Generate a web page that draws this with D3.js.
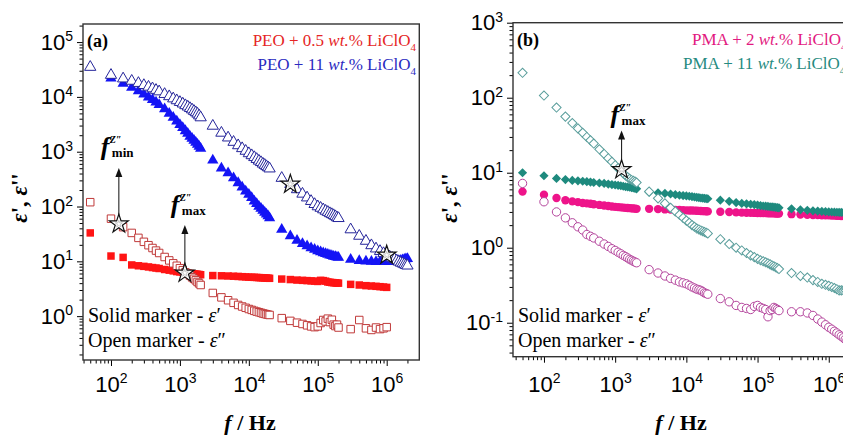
<!DOCTYPE html>
<html>
<head>
<meta charset="utf-8">
<script src="https://cdn.jsdelivr.net/npm/d3@7"></script>
<style>
body { margin: 0; background: #fff; }
svg text { font-family: "Liberation Serif", "Times New Roman", serif; }
.tick text { font-family: "Liberation Sans", Arial, sans-serif; font-size: 22px; }
</style>
</head>
<body>
<svg id="chart" width="843" height="435"></svg>
<script>
// frequency grid (Hz) shared by all series
var freq = [50, 100, 150, 200, 250, 300, 350, 400, 450, 500, 600, 700, 800, 900, 1000,
  1100, 1200, 1300, 1400, 1500, 1600, 1700, 1800, 1900, 2000,
  3000, 4000, 5000, 6000, 7000, 8000, 9000, 10000, 11000, 12000,
  13000, 14000, 15000, 16000, 17000, 18000, 19000, 20000,
  30000, 40000, 50000, 60000, 70000, 80000, 90000, 100000, 110000, 120000,
  130000, 140000, 150000, 160000, 170000, 180000, 190000, 200000,
  300000, 400000, 500000, 600000, 700000, 800000, 900000, 1000000, 1100000, 1200000,
  1300000, 1400000, 1500000, 1600000, 1700000, 1800000, 1900000, 2000000];

// (a) PEO + 0.5 wt.% LiClO4
var epsRealPEO05 = [33, 12.5, 11.8, 8.6, 8.3, 8.1, 7.9, 7.7, 7.55, 7.4, 7.1, 6.9, 6.7, 6.5, 6.4,
  6.3, 6.2, 6.1, 6.0, 5.95, 5.9, 5.85, 5.8, 5.75, 5.7,
  5.5, 5.45, 5.4, 5.35, 5.3, 5.25, 5.2, 5.15, 5.13, 5.1,
  5.08, 5.05, 5.03, 5.0, 4.98, 4.95, 4.93, 4.9,
  4.75, 4.65, 4.55, 4.5, 4.45, 4.4, 4.35, 4.3, 4.5, 4.45,
  4.35, 4.2, 4.15, 4.1, 4.08, 4.05, 4.02, 4.0,
  3.8, 3.7, 3.6, 3.55, 3.5, 3.45, 3.4, 3.35, null, null,
  null, null, null, null, null, null, null, null];
var epsImagPEO05 = [120, 60, 42, 33, 26.8, 22.7, 19.7, 17.5, 15.7, 14.2, 12.0, 10.4, 9.2, 8.3, 7.5,
  6.9, 6.3, 5.9, 5.5, 5.1, 4.8, 4.5, 4.2, 3.95, 3.7,
  2.65, 2.2, 1.95, 1.75, 1.6, 1.5, 1.42, 1.35, 1.3, 1.25,
  1.21, 1.18, 1.15, 1.12, 1.1, 1.08, 1.06, 1.05,
  0.92, 0.82, 0.76, 0.72, 0.68, 0.65, 0.63, 0.65, 0.75, 0.85,
  0.8, 0.9, 0.78, 0.86, 0.7, 0.66, 0.7, 0.62,
  0.58, 0.85, 0.6, 0.56, 0.62, 0.58, 0.6, 0.63, null, null,
  null, null, null, null, null, null, null, null];
// (a) PEO + 11 wt.% LiClO4
var epsRealPEO11 = [null, 22000, 17500, 14800, 12800, 11200, 9900, 8900, 8000, 7200, 6000, 5000, 4200, 3600, 3100,
  2750, 2400, 2150, 1900, 1750, 1600, 1470, 1350, 1250, 1150,
  700, 500, 410, 330, 270, 225, 190, 165, 145, 125,
  112, 100, 92, 85, 78, 72, 67, 62,
  38, 29, 24, 21, 19, 17.5, 16.5, 15.5, 14.8, 14.2,
  13.7, 13.3, 12.9, 12.6, 12.3, 12.1, 11.9, 11.7,
  10.8, 10.3, 10.0, 9.9, 9.8, 9.8, 9.8, 9.8, 9.85, 9.9,
  10.0, 10.1, 10.2, 10.4, 10.6, 10.8, 11.0, 11.2];
var epsImagPEO11 = [35000, 25000, 21500, 19500, 17800, 16300, 15200, 14200, 13300, 12500, 11200, 10200, 9300, 8600, 8000,
  7500, 7000, 6600, 6200, 5850, 5500, 5200, 4900, 4550, 4200,
  2950, 2200, 1800, 1500, 1300, 1150, 1030, 930, 855, 790,
  730, 680, 640, 600, 570, 540, 515, 490,
  330, 255, 205, 170, 145, 125, 110, 100, 94, 88,
  83, 79, 75, 72, 69, 66, 63, 61,
  38, 29, 23.5, 19.5, 17, 15.3, 14, 13, 12.2, 11.5,
  10.9, 10.3, 9.8, 9.4, 9.1, 8.8, 8.5, 8.3];

// (b) PMA + 2 wt.% LiClO4
var epsRealPMA2 = [5.6, 5.1, 4.6, 4.3, 4.15, 4.05, 3.95, 3.9, 3.85, 3.8, 3.72, 3.65, 3.6, 3.55, 3.5,
  3.48, 3.45, 3.42, 3.4, 3.38, 3.37, 3.35, 3.34, 3.32, 3.3,
  3.3, 3.27, 3.24, 3.22, 3.2, 3.18, 3.17, 3.15, 3.14, 3.13,
  3.12, 3.11, 3.1, 3.09, 3.08, 3.07, 3.06, 3.05,
  3.02, 2.99, 2.96, 2.94, 2.93, 2.92, 2.91, 2.9, 2.9, 2.89,
  2.89, 2.88, 2.88, 2.87, 2.87, 2.86, 2.86, 2.85,
  2.8, 2.77, 2.75, 2.73, 2.72, 2.71, 2.7, 2.7, 2.69, 2.68,
  2.67, 2.66, 2.65, 2.64, 2.63, 2.62, 2.61, 2.6];
var epsImagPMA2 = [7.2, 4.1, 3.0, 2.5, 2.15, 1.9, 1.72, 1.5, 1.42, 1.35, 1.22, 1.12, 1.04, 0.97, 0.92,
  0.87, 0.83, 0.79, 0.76, 0.73, 0.7, 0.68, 0.66, 0.645, 0.63,
  0.51, 0.46, 0.42, 0.39, 0.37, 0.35, 0.34, 0.33, 0.315, 0.3,
  0.29, 0.28, 0.275, 0.27, 0.26, 0.25, 0.245, 0.24,
  0.21, 0.19, 0.17, 0.16, 0.155, 0.15, 0.165, 0.17, 0.16, 0.155,
  0.15, 0.12, 0.145, 0.15, 0.16, 0.155, 0.15, 0.145,
  0.14, 0.14, 0.135, 0.125, 0.112, 0.102, 0.094, 0.087, 0.082, 0.077,
  0.073, 0.069, 0.066, 0.063, 0.06, 0.058, 0.056, 0.054];
// (b) PMA + 11 wt.% LiClO4
var epsRealPMA11 = [10, 9.1, 8.4, 8.1, 7.9, 7.8, 7.7, 7.6, 7.5, 7.4, 7.3, 7.2, 7.05, 6.95, 6.85,
  6.78, 6.7, 6.6, 6.5, 6.45, 6.4, 6.32, 6.25, 6.18, 6.1,
  5.5, 5.4, 5.3, 5.2, 5.1, 5.0, 4.95, 4.9, 4.85, 4.8,
  4.75, 4.7, 4.65, 4.6, 4.58, 4.55, 4.52, 4.5,
  4.3, 4.15, 4.0, 3.9, 3.85, 3.8, 3.75, 3.7, 3.65, 3.6,
  3.58, 3.55, 3.52, 3.5, 3.47, 3.45, 3.42, 3.4,
  3.3, 3.2, 3.15, 3.1, 3.08, 3.05, 3.03, 3.0, 2.99, 2.98,
  2.97, 2.96, 2.955, 2.95, 2.94, 2.93, 2.925, 2.92];
var epsImagPMA11 = [215, 107, 74, 56, 46, 39, 34, 30, 27, 24.5, 20.5, 17.8, 15.6, 14, 12.6,
  11.5, 10.6, 9.8, 9.2, 8.7, 8.3, 8.0, 7.8, 7.6, 7.4,
  5.6, 4.55, 3.9, 3.4, 3.05, 2.75, 2.5, 2.3, 2.15, 2.0,
  1.9, 1.8, 1.75, 1.7, 1.66, 1.62, 1.58, 1.55,
  1.3, 1.12, 1.0, 0.92, 0.85, 0.79, 0.75, 0.71, 0.68, 0.66,
  0.64, 0.62, 0.6, 0.58, 0.565, 0.55, 0.535, 0.52,
  0.46, 0.42, 0.4, 0.37, 0.35, 0.33, 0.32, 0.31, 0.3, 0.29,
  0.28, 0.27, 0.27, 0.27, 0.275, 0.28, 0.285, 0.29];

// star markers (f_min / f_max of Z'')
var starFreqA = [130, 1180, 40000, 1000000];
var starEpsA = [48, 6.1, 255, 13];
var starFreqB = [1230];
var starEpsB = [11];

var svg = d3.select("#chart");
svg.append("rect").attr("width", 843).attr("height", 435).attr("fill", "#fff");

function isDecade(d) {
  var l = Math.log10(d);
  return Math.abs(l - Math.round(l)) < 1e-6;
}

function supLabel(sel) {
  sel.each(function(d) {
    var t = d3.select(this);
    t.text(null);
    t.append("tspan").text("10");
    t.append("tspan").attr("dy", "-0.6em").attr("font-size", "14px").text(Math.round(Math.log10(d)));
  });
}

function drawPanel(p) {
  var x = d3.scaleLog().domain(p.xDomain).range([p.left, p.right]);
  var y = d3.scaleLog().domain(p.yDomain).range([p.bottom, p.top]);
  var g = svg.append("g");

  var xt = x.ticks(), yt = y.ticks();

  // axes, ticks pointing out
  g.append("g").attr("transform", "translate(0," + p.bottom + ")")
    .call(d3.axisBottom(x).tickValues(xt.filter(function(d) { return !isDecade(d); })).tickSize(3.5).tickFormat(""))
    .call(function(a) { a.select(".domain").remove(); });
  g.append("g").attr("transform", "translate(0," + p.bottom + ")")
    .call(d3.axisBottom(x).tickValues(xt.filter(isDecade)).tickSize(6).tickPadding(p.xPad))
    .call(function(a) { a.select(".domain").remove(); })
    .selectAll(".tick text").call(supLabel);
  g.append("g").attr("transform", "translate(" + p.left + ",0)")
    .call(d3.axisLeft(y).tickValues(yt.filter(function(d) { return !isDecade(d); })).tickSize(3.5).tickFormat(""))
    .call(function(a) { a.select(".domain").remove(); });
  g.append("g").attr("transform", "translate(" + p.left + ",0)")
    .call(d3.axisLeft(y).tickValues(yt.filter(isDecade)).tickSize(6).tickPadding(4))
    .call(function(a) { a.select(".domain").remove(); })
    .selectAll(".tick text").call(supLabel);

  // series
  p.series.forEach(function(s) {
    var pts = freq.map(function(f, i) { return [f, s.values[i]]; })
      .filter(function(d) { return d[1] != null; });
    var sym = d3.symbol().type(s.shape).size(s.size);
    g.append("g").selectAll("path").data(pts).enter().append("path")
      .attr("d", sym)
      .attr("transform", function(d) {
        return "translate(" + x(d[0]) + "," + y(d[1]) + ")" + (s.rotate ? " rotate(45)" : "");
      })
      .attr("fill", s.open ? "#fff" : s.color)
      .attr("stroke", s.open ? s.color : "none")
      .attr("stroke-width", 1);
  });

  // frame
  g.append("rect").attr("x", p.left).attr("y", p.top)
    .attr("width", p.right - p.left).attr("height", p.bottom - p.top)
    .attr("fill", "none").attr("stroke", "#333").attr("stroke-width", 1.4);

  // arrows + labels
  p.arrows.forEach(function(a) {
    var sx = x(a.f), sy = y(a.e), ty = sy - a.lift;
    g.append("line").attr("x1", sx).attr("x2", sx).attr("y1", sy - 9).attr("y2", ty + 6)
      .attr("stroke", "#222").attr("stroke-width", 1.1);
    g.append("path").attr("d", "M" + sx + "," + ty + "L" + (sx - 3.5) + "," + (ty + 9) + "L" + (sx + 3.5) + "," + (ty + 9) + "Z")
      .attr("fill", "#111");
    var lx = sx + a.dx, ly = ty + a.dy;
    g.append("text").attr("x", lx).attr("y", ly).attr("font-size", 26)
      .attr("font-style", "italic").attr("font-weight", "bold").text("f");
    g.append("text").attr("x", lx + 9).attr("y", ly - 12).attr("font-size", 10)
      .attr("font-style", "italic").attr("font-weight", "bold").text("Z\u2033");
    g.append("text").attr("x", lx + 11).attr("y", ly + 2).attr("font-size", 13)
      .attr("font-weight", "bold").text(a.sub);
  });

  // stars
  var star = d3.symbol().type(d3.symbolStar);
  p.starF.forEach(function(f, i) {
    var t = "translate(" + x(f) + "," + y(p.starE[i]) + ")";
    g.append("path").attr("d", star.size(110)()).attr("transform", t)
      .attr("fill", "#fff").attr("stroke", "#111").attr("stroke-width", 1.2);
    g.append("path").attr("d", star.size(16)()).attr("transform", t)
      .attr("fill", "none").attr("stroke", "#999").attr("stroke-width", 0.5);
  });

  // panel tag
  g.append("text").attr("x", p.left + 4).attr("y", p.top + 23).attr("font-size", 18)
    .attr("font-weight", "bold").text(p.tag);

  // legend
  p.legend.forEach(function(l, i) {
    var t = g.append("text").attr("x", l.x).attr("y", p.top + 22 + i * 24)
      .attr("text-anchor", l.anchor).attr("font-size", 17).attr("fill", l.color);
    t.append("tspan").text(l.name + " + " + l.wt + " ");
    t.append("tspan").attr("font-style", "italic").text("wt.");
    t.append("tspan").text("% LiClO");
    t.append("tspan").attr("dy", 5).attr("font-size", 11).text("4");
  });

  // marker note
  ["Solid marker - ", "Open marker - "].forEach(function(s, i) {
    var t = g.append("text").attr("x", p.left + 5).attr("y", p.noteY + i * 25).attr("font-size", 20);
    t.append("tspan").text(s);
    t.append("tspan").attr("font-style", "italic").text("\u03b5");
    t.append("tspan").text(i ? "\u2033" : "\u2032");
  });

  // axis titles
  var xt2 = g.append("text").attr("x", p.xTitleX).attr("y", 430).attr("text-anchor", "middle")
    .attr("font-size", 22).attr("font-weight", "bold");
  xt2.append("tspan").attr("font-style", "italic").text("f");
  xt2.append("tspan").text(" / Hz");

  var yt2 = g.append("text").attr("transform", "translate(" + p.yTitleX + ",198) rotate(-90)")
    .attr("text-anchor", "middle").attr("font-size", 23).attr("font-weight", "bold");
  yt2.append("tspan").attr("font-style", "italic").text("\u03b5");
  yt2.append("tspan").text("', ");
  yt2.append("tspan").attr("font-style", "italic").text("\u03b5");
  yt2.append("tspan").text("''");
}

drawPanel({
  left: 83, right: 419.3, top: 24, bottom: 360,
  xDomain: [Math.pow(10, 1.594), Math.pow(10, 6.473)],
  yDomain: [Math.pow(10, -0.8), Math.pow(10, 5.33)],
  xPad: 10, tag: "(a)", noteY: 322, xTitleX: 250, yTitleX: 27,
  series: [
    { values: epsRealPEO05, color: "#ff1414", shape: d3.symbolSquare, size: 56 },
    { values: epsRealPEO11, color: "#1414f5", shape: d3.symbolTriangle, size: 55 },
    { values: epsImagPEO05, color: "#c03a3a", shape: d3.symbolSquare, size: 56, open: true },
    { values: epsImagPEO11, color: "#25259a", shape: d3.symbolTriangle, size: 55, open: true }
  ],
  starF: starFreqA, starE: starEpsA,
  arrows: [
    { f: starFreqA[0], e: starEpsA[0], lift: 56, dx: -18, dy: -13, sub: "min" },
    { f: starFreqA[1], e: starEpsA[1], lift: 48, dx: -14, dy: -12, sub: "max" }
  ],
  legend: [
    { name: "PEO", wt: "0.5", color: "#e52525", x: 416, anchor: "end" },
    { name: "PEO", wt: "11", color: "#2a2abf", x: 416, anchor: "end" }
  ]
});

drawPanel({
  left: 513, right: 862, top: 22.7, bottom: 356.7,
  xDomain: [Math.pow(10, 1.565), Math.pow(10, 6.467)],
  yDomain: [Math.pow(10, -1.453), 1000],
  xPad: 13.5, tag: "(b)", noteY: 322, xTitleX: 681, yTitleX: 457,
  series: [
    { values: epsRealPMA2, color: "#ee148a", shape: d3.symbolCircle, size: 55 },
    { values: epsRealPMA11, color: "#1e8a7e", shape: d3.symbolSquare, size: 42, rotate: true },
    { values: epsImagPMA2, color: "#b4449c", shape: d3.symbolCircle, size: 55, open: true },
    { values: epsImagPMA11, color: "#5a9e9c", shape: d3.symbolSquare, size: 42, rotate: true, open: true }
  ],
  starF: starFreqB, starE: starEpsB,
  arrows: [
    { f: starFreqB[0], e: starEpsB[0], lift: 39, dx: -11, dy: -8, sub: "max" }
  ],
  legend: [
    { name: "PMA", wt: "2", color: "#e2197f", x: 692, anchor: "start" },
    { name: "PMA", wt: "11", color: "#258a80", x: 683, anchor: "start" }
  ]
});
</script>
</body>
</html>
